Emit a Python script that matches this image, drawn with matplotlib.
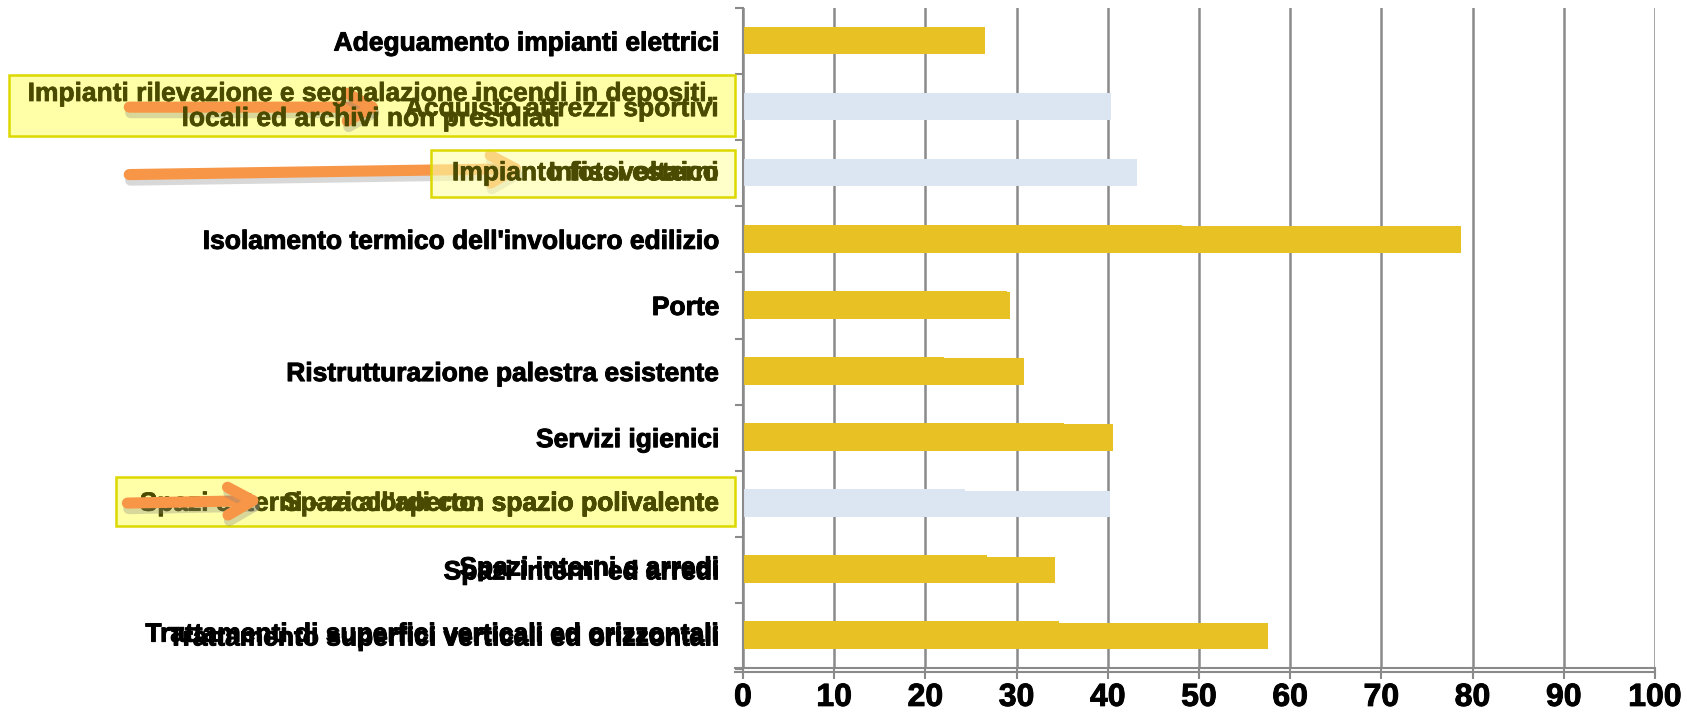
import numpy as np
import matplotlib.pyplot as plt
import matplotlib.patheffects as pe
from matplotlib.patches import Rectangle
from matplotlib.lines import Line2D
import matplotlib.transforms as mtransforms

plt.rcParams['font.family'] = ['Liberation Sans', 'DejaVu Sans']

# data (rows from top to bottom)
categories = ["Adeguamento impianti elettrici",
              "Acquisto attrezzi sportivi",
              "Infissi esterni",
              "Isolamento termico dell'involucro edilizio",
              "Porte",
              "Ristrutturazione palestra esistente",
              "Servizi igienici",
              "Spazi all'aperto: spazio polivalente",
              "Spazi interni ed arredi",
              "Trattamento superfici verticali ed orizzontali"]
values = [26.5, 40.3, 43.2, 78.7, 29.3, 30.8, 40.6, 40.2, 34.2, 57.6]
# ghost of the previous slide state (animation left-over)
prev_values = [26.5, 40.3, 43.2, 48.1, 29.0, 22.0, 35.2, 24.3, 26.8, 34.7]
highlighted = [False, True, True, False, False, False, False, True, False, False]
# labels of the replaced items shown in the yellow boxes
old_labels = {1: "Impianti rilevazione e segnalazione incendi in depositi,\nlocali ed archivi non presidiati",
              2: "Impianto fotovoltaico",
              7: "Spazi esterni - raccordi con spazio polivalente"}
ghost_labels = {8: "Spazi interni e arredi",
                9: "Trattamenti di superfici verticali ed orizzontali"}

yellow = '#E8C224'
lightblue = '#DCE6F2'
grey = '#8a8a8a'
olive = '#4a4a00'
orange = '#F79646'
fs = 19
heavy = [pe.withStroke(linewidth=0.7, foreground='black')]
heavy_olive = [pe.withStroke(linewidth=0.5, foreground=olive)]

W, H = 1687, 713
fig = plt.figure(figsize=(W / 100, H / 100), dpi=100)
ax = fig.add_axes([743 / W, 1 - 669 / H, 912 / W, 661 / H])

y = np.arange(len(categories))
cols = [lightblue if h else yellow for h in highlighted]
ax.barh(y - 0.02, prev_values, height=0.4, color=cols, zorder=2)
ax.barh(y, values, height=0.4, color=cols, zorder=2)

ax.set_xlim(0, 100)
ax.set_ylim(9.5, -0.5)
ax.set_xticks(np.arange(0, 101, 10))
ax.grid(axis='x', color=grey, lw=1.8)
ax.set_axisbelow(True)
for s in ['top', 'right']:
    ax.spines[s].set_visible(False)
ax.spines['left'].set_color(grey)
ax.spines['left'].set_linewidth(1.5)
ax.spines['bottom'].set_visible(False)

# double bottom axis line extending a bit left
for dy in [1, -3]:
    tr = mtransforms.offset_copy(ax.transAxes, fig=fig, y=dy, units='dots')
    ax.add_line(Line2D([-0.009, 1], [0, 0], transform=tr, color=grey, lw=1.5, clip_on=False))

ax.tick_params(axis='x', direction='out', length=7, width=1.5, color=grey, pad=3)
for lab in ax.get_xticklabels():
    lab.set_fontweight('bold')
    lab.set_fontsize(23)
    lab.set_path_effects(heavy)

ax.set_yticks(y)
ax.set_yticklabels(['' if h else c for c, h in zip(categories, highlighted)],
                   fontsize=fs, fontweight='bold')
for lab in ax.get_yticklabels():
    lab.set_path_effects(heavy)
ax.tick_params(axis='y', length=0, pad=17)
ax.set_yticks(np.arange(-0.5, 10, 1), minor=True)
ax.tick_params(axis='y', which='minor', direction='out', length=6, width=1.5, color=grey)

bt = mtransforms.blended_transform_factory(ax.transAxes, ax.transData)
lx = -0.0263

# ghost labels of non highlighted rows
for i, t in ghost_labels.items():
    ax.text(lx, i - 0.02, t, transform=bt, ha='right', va='center', fontsize=fs,
            fontweight='bold', color='black', clip_on=False, path_effects=heavy)

# yellow boxes
boxes = {1: (-0.805, 0.51, 1.44), 2: (-0.342, 1.65, 2.36), 7: (-0.688, 6.60, 7.34)}
for i, (x0, y0, y1) in boxes.items():
    z = 6 if i == 2 else 3
    a = 0.6 if i == 2 else 1.0
    ax.add_patch(Rectangle((x0, y0), -0.0088 - x0, y1 - y0, transform=bt, clip_on=False,
                           facecolor='#FFFFA8', alpha=a, edgecolor='none', zorder=z))
    ax.add_patch(Rectangle((x0, y0), -0.0088 - x0, y1 - y0, transform=bt, clip_on=False,
                           facecolor='none', edgecolor='#DCD800', lw=1.8, zorder=z))

# texts in the boxes
ax.text(-0.408, 0.99, old_labels[1], transform=bt, ha='center', va='center', fontsize=fs,
        fontweight='bold', color=olive, linespacing=1.05, zorder=7, clip_on=False,
        path_effects=heavy_olive)
ax.text(lx, 1.03, categories[1], transform=bt, ha='right', va='center', fontsize=fs,
        fontweight='bold', color=olive, zorder=7, clip_on=False, path_effects=heavy_olive)
for i in [2, 7]:
    ax.text(lx, i, old_labels[i], transform=bt, ha='right', va='center', fontsize=fs,
            fontweight='bold', color=olive, zorder=7, clip_on=False, path_effects=heavy_olive)
    ax.text(lx, i, categories[i], transform=bt, ha='right', va='center', fontsize=fs,
            fontweight='bold', color=olive, zorder=7, clip_on=False, path_effects=heavy_olive)

# orange arrows
arrows = [((-0.673, 1.0), (-0.394, 1.0), 5),
          ((-0.673, 2.02), (-0.237, 1.93), 5),
          ((-0.675, 6.99), (-0.525, 6.95), 8)]
for (p0, p1, z) in arrows:
    ax.annotate('', xy=p1, xytext=p0, xycoords=bt, textcoords=bt, zorder=z,
                annotation_clip=False,
                arrowprops=dict(arrowstyle='->,head_length=0.9,head_width=0.5', color=orange,
                                lw=8, shrinkA=0, shrinkB=0, mutation_scale=20,
                                path_effects=[pe.SimpleLineShadow(offset=(1, -4), shadow_color='grey',
                                                                  alpha=0.3), pe.Normal()]))

fig.savefig('out.png', dpi=100, facecolor='w')
